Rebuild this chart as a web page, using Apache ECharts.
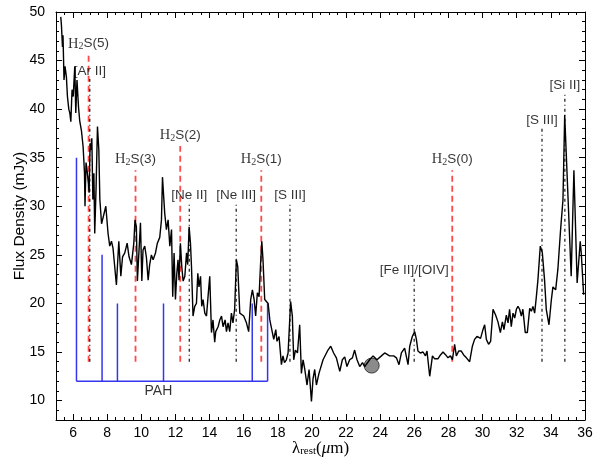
<!DOCTYPE html>
<html>
<head>
<meta charset="utf-8">
<script src="https://cdn.jsdelivr.net/npm/echarts@6/dist/echarts.min.js"></script>
<style>
  html, body { margin: 0; padding: 0; background: #fff; }
  #chart { width: 614px; height: 465px; }
</style>
</head>
<body>
<div id="chart"></div>
<script>
// spectrum (lambda_rest in micron, flux in mJy)
const wavelength = [
  5.28, 5.32, 5.38, 5.41, 5.47, 5.53, 5.61, 5.67, 5.75, 5.81, 5.87, 5.94, 6.01, 6.10, 6.16, 6.23,
  6.32, 6.39, 6.49, 6.59, 6.67, 6.70, 6.76, 6.82, 6.88, 6.94, 7.00, 7.04, 7.10, 7.16, 7.22, 7.27,
  7.35, 7.43, 7.51, 7.57, 7.67, 7.76, 7.92, 8.05, 8.15, 8.25, 8.34, 8.43, 8.54, 8.68, 8.80, 8.90,
  9.03, 9.17, 9.28, 9.42, 9.56, 9.63, 9.71, 9.77, 9.87, 9.95, 10.03, 10.10, 10.20, 10.30, 10.40, 10.49,
  10.59, 10.69, 10.83, 10.94, 11.08, 11.18, 11.24, 11.37, 11.47, 11.57, 11.67, 11.77, 11.84, 11.92, 12.00, 12.08,
  12.15, 12.21, 12.29, 12.37, 12.45, 12.55, 12.65, 12.72, 12.80, 12.88, 12.94, 13.03, 13.13, 13.23, 13.31, 13.38,
  13.47, 13.54, 13.62, 13.72, 13.82, 13.91, 14.01, 14.11, 14.20, 14.30, 14.36, 14.50, 14.60, 14.70, 14.79, 14.91,
  14.99, 15.08, 15.18, 15.28, 15.37, 15.47, 15.57, 15.65, 15.77, 15.87, 16.00, 16.16, 16.29, 16.41, 16.51, 16.61,
  16.70, 16.80, 16.90, 16.98, 17.06, 17.13, 17.23, 17.33, 17.43, 17.53, 17.68, 17.76, 17.88, 17.95, 18.07, 18.21,
  18.30, 18.39, 18.50, 18.60, 18.75, 18.85, 18.93, 19.03, 19.15, 19.28, 19.38, 19.48, 19.58, 19.71, 19.83, 19.97,
  20.06, 20.16, 20.26, 20.41, 20.65, 20.94, 21.10, 21.27, 21.43, 21.63, 21.78, 21.92, 22.05, 22.21, 22.37, 22.50,
  22.64, 22.80, 22.96, 23.09, 23.38, 23.58, 23.81, 24.07, 24.26, 24.55, 24.79, 24.95, 25.10, 25.24, 25.43, 25.63,
  25.73, 25.88, 26.02, 26.12, 26.21, 26.35, 26.51, 26.65, 26.74, 26.90, 27.06, 27.19, 27.38, 27.53, 27.68, 27.84,
  27.97, 28.11, 28.23, 28.36, 28.46, 28.60, 28.75, 28.89, 29.05, 29.24, 29.40, 29.53, 29.67, 29.78, 29.88, 30.02,
  30.12, 30.22, 30.35, 30.47, 30.61, 30.76, 30.90, 31.04, 31.16, 31.25, 31.39, 31.49, 31.58, 31.68, 31.78, 31.88,
  31.98, 32.07, 32.17, 32.27, 32.36, 32.50, 32.62, 32.76, 32.86, 32.95, 33.05, 33.15, 33.24, 33.38, 33.50, 33.63,
  33.73, 33.89, 34.03, 34.12, 34.28, 34.41, 34.57, 34.71, 34.81, 35.19, 35.35, 35.54, 35.72, 35.78, 35.92
];
const flux = [
  49.5, 48.6, 46.4, 47.6, 43.0, 44.4, 43.3, 41.3, 40.0, 39.6, 38.7, 42.0, 41.3, 44.4, 39.6, 43.0,
  40.2, 38.8, 37.8, 36.1, 33.4, 30.0, 34.5, 33.7, 32.7, 31.4, 36.5, 35.8, 37.0, 30.7, 33.4, 27.2,
  32.0, 38.2, 35.8, 30.7, 28.2, 28.4, 30.0, 27.2, 25.9, 26.4, 25.7, 25.8, 21.9, 26.4, 22.8, 24.8,
  25.2, 26.2, 24.8, 24.0, 26.2, 28.6, 27.9, 22.3, 22.4, 28.3, 22.3, 25.5, 25.9, 24.7, 22.4, 24.0,
  25.0, 24.5, 25.2, 26.2, 26.8, 28.6, 33.0, 29.3, 27.6, 28.6, 25.9, 27.6, 20.7, 25.2, 20.4, 23.1,
  24.5, 22.4, 26.2, 23.8, 22.3, 22.8, 25.2, 24.0, 27.9, 26.2, 23.8, 18.7, 19.7, 20.0, 23.1, 21.7,
  22.8, 19.7, 20.4, 19.0, 18.7, 20.7, 22.8, 17.0, 18.3, 16.0, 17.1, 17.6, 18.3, 18.7, 17.6, 18.3,
  17.1, 18.0, 17.1, 19.0, 18.0, 19.4, 24.5, 23.8, 19.0, 18.8, 18.7, 18.0, 17.1, 20.4, 21.4, 20.4,
  18.7, 21.1, 20.7, 23.8, 26.4, 24.5, 20.4, 20.4, 20.0, 18.3, 17.0, 16.3, 17.3, 16.1, 16.6, 13.7,
  14.6, 13.9, 14.2, 14.9, 20.2, 18.7, 14.2, 15.2, 14.9, 17.8, 12.8, 14.2, 13.2, 11.6, 13.2, 9.9,
  12.2, 13.2, 11.6, 12.8, 14.2, 15.2, 15.6, 14.9, 14.4, 13.0, 14.2, 14.5, 13.5, 14.2, 14.4, 15.2,
  14.2, 13.5, 13.9, 13.5, 14.2, 14.6, 14.2, 14.6, 14.9, 14.6, 14.6, 14.4, 13.7, 14.9, 15.4, 13.7,
  15.6, 16.6, 17.1, 16.3, 15.1, 14.9, 15.0, 14.6, 15.1, 12.5, 14.6, 14.3, 14.3, 14.7, 15.0, 14.7,
  14.4, 14.6, 14.2, 15.8, 14.6, 15.1, 15.1, 14.7, 14.4, 14.0, 15.6, 16.3, 16.6, 16.8, 16.4, 17.3,
  17.8, 16.3, 15.8, 16.1, 19.4, 18.8, 18.1, 17.0, 18.1, 17.3, 18.8, 18.0, 19.4, 17.6, 19.0, 18.5,
  19.4, 19.7, 19.4, 18.7, 19.4, 17.0, 17.0, 19.5, 19.2, 19.7, 19.0, 20.7, 22.4, 25.9, 25.2, 22.4,
  19.4, 17.8, 20.4, 21.7, 21.4, 23.5, 27.6, 30.7, 39.4, 22.8, 33.7, 22.1, 26.4, 25.2, 20.9
];

// H2 rotational lines (red dashed)
const h2Names = ['H2S(5)', 'H2S(3)', 'H2S(2)', 'H2S(1)', 'H2S(0)'];
const h2Wave = [6.91, 9.66, 12.28, 17.03, 28.22];
const h2Top = [45.6, 33.7, 36.2, 33.7, 33.7];

// fine-structure lines (black dash-dot)
const ionNames = ['[Ar II]', '[Ne II]', '[Ne III]', '[S III]', '[Fe II]/[OIV]', '[S III]', '[Si II]'];
const ionWave = [6.98, 12.81, 15.56, 18.71, 25.99, 33.48, 34.82];
const ionTop = [43.1, 30.3, 30.3, 30.3, 22.6, 38.0, 41.6];
const lineBottom = 14;

// PAH bands (blue comb)
const pahWave = [6.2, 7.7, 8.6, 11.3, 16.5, 17.4];
const pahTop = [35, 25, 20, 20, 20, 20];
const pahBase = 12;
const pahLabel = [11.0, 10.95];

// photometric point
const photPoint = [23.5, 13.6];

// tick positions
const xMajor = [6, 8, 10, 12, 14, 16, 18, 20, 22, 24, 26, 28, 30, 32, 34, 36];
const yMajor = [10, 15, 20, 25, 30, 35, 40, 45, 50];

const SANS = 'Liberation Sans';
const SERIF = 'Liberation Serif';
const RED = '#ff4a4a';
const BLUE = '#3535ee';

const chart = echarts.init(document.getElementById('chart'), null, { renderer: 'canvas' });

// four stacked grids with the same box: minor/major ticks on every side
const gridBox = { left: 56, right: 29, top: 12, bottom: 45, containLabel: false, outerBoundsMode: 'none' };
const grids = [0, 1, 2, 3].map(() => Object.assign({}, gridBox));

// 0: bottom/left minor, 1: bottom/left major + labels, 2: top/right minor, 3: top/right major
function xAxisFor(g) {
  const major = g % 2 === 1;
  const pos = g < 2 ? 'bottom' : 'top';
  const ax = {
    type: 'value', gridIndex: g, position: pos, min: 5, max: 36,
    axisLine: { show: !major, onZero: false, lineStyle: { color: '#000', width: 1 } },
    axisTick: { inside: true, length: major ? 6 : 3, lineStyle: { color: '#000', width: 1 } },
    axisLabel: { show: false },
    splitLine: { show: false }
  };
  if (major) {
    ax.axisTick.customValues = xMajor;
  } else {
    ax.interval = 0.5;
  }
  if (g === 1) {
    ax.axisLabel = { show: true, customValues: xMajor, margin: 6, color: '#000', fontFamily: SANS, fontSize: 14 };
    ax.name = '{l|λ}{r|rest}{p|(}{u|μ}{p|m)}';
    ax.nameLocation = 'middle';
    ax.nameGap = 20;
    ax.nameMoveOverlap = false;
    ax.nameTextStyle = {
      color: '#000',
      rich: {
        l: { fontFamily: SERIF, fontSize: 17, color: '#000' },
        r: { fontFamily: SERIF, fontSize: 11, color: '#000', verticalAlign: 'bottom', lineHeight: 14 },
        p: { fontFamily: SERIF, fontSize: 17, color: '#000' },
        u: { fontFamily: SERIF, fontSize: 17, fontStyle: 'italic', color: '#000' }
      }
    };
  }
  return ax;
}

function yAxisFor(g) {
  const major = g % 2 === 1;
  const pos = g < 2 ? 'left' : 'right';
  const ax = {
    type: 'value', gridIndex: g, position: pos, min: 8, max: 50,
    axisLine: { show: !major, onZero: false, lineStyle: { color: '#000', width: 1 } },
    axisTick: { inside: true, length: major ? 6 : 3, lineStyle: { color: '#000', width: 1 } },
    axisLabel: { show: false },
    splitLine: { show: false }
  };
  if (major) {
    ax.axisTick.customValues = yMajor;
  } else {
    ax.interval = 1;
  }
  if (g === 1) {
    ax.axisLabel = { show: true, customValues: yMajor, margin: 11, color: '#000', fontFamily: SANS, fontSize: 14 };
    ax.name = 'Flux Density (mJy)';
    ax.nameLocation = 'middle';
    ax.nameRotate = 90;
    ax.nameGap = 28;
    ax.nameMoveOverlap = false;
    ax.nameTextStyle = { color: '#000', fontFamily: SANS, fontSize: 15.5 };
  }
  return ax;
}

function segment(points, color, width, type, z) {
  return {
    type: 'line', xAxisIndex: 1, yAxisIndex: 1, data: points,
    symbol: 'none', silent: true, z: z,
    lineStyle: { color: color, width: width, type: type }
  };
}

const series = [];

// PAH comb
series.push(segment([[pahWave[0], pahBase], [pahWave[pahWave.length - 1], pahBase]], BLUE, 1.5, 'solid', 2));
pahWave.forEach((w, i) => series.push(segment([[w, pahBase], [w, pahTop[i]]], BLUE, 1.5, 'solid', 2)));

// line markers
h2Wave.forEach((w, i) => series.push(segment([[w, lineBottom], [w, h2Top[i]]], RED, 1.8, [6, 4], 3)));
ionWave.forEach((w, i) => series.push(segment([[w, lineBottom], [w, ionTop[i]]], '#111', 1.2, [3, 3, 1, 3], 3)));

// photometric point
series.push({
  type: 'scatter', xAxisIndex: 1, yAxisIndex: 1, data: [photPoint], silent: true, z: 4,
  symbol: 'circle', symbolSize: 15,
  itemStyle: { color: '#6e6e6e', borderColor: '#222', borderWidth: 1 }
});

// spectrum
series.push({
  type: 'line', xAxisIndex: 1, yAxisIndex: 1, z: 5, silent: true,
  data: wavelength.map((w, i) => [w, flux[i]]),
  symbol: 'none',
  lineStyle: { color: '#000', width: 1.4 }
});

// labels
const labelBase = { color: '#000', fontFamily: SANS, fontSize: 13.5 };
series.push({
  type: 'scatter', xAxisIndex: 1, yAxisIndex: 1, symbolSize: 0, silent: true, z: 6,
  data: h2Wave.map((w, i) => ({ value: [w, h2Top[i]], name: h2Names[i] })),
  label: {
    show: true, position: 'top', distance: 3,
    formatter: (p) => '{h|H}{s|2}{t|' + p.name.slice(2) + '}',
    rich: {
      h: { fontFamily: SERIF, fontSize: 14.5, color: '#000', lineHeight: 16 },
      s: { fontFamily: SERIF, fontSize: 10, color: '#000', verticalAlign: 'bottom', lineHeight: 12 },
      t: Object.assign({ lineHeight: 16 }, labelBase)
    }
  }
});
series.push({
  type: 'scatter', xAxisIndex: 1, yAxisIndex: 1, symbolSize: 0, silent: true, z: 6,
  data: ionWave.map((w, i) => ({ value: [w, ionTop[i]], name: ionNames[i] })),
  label: Object.assign({ show: true, position: 'top', distance: 1, formatter: '{b}' }, labelBase)
});
series.push({
  type: 'scatter', xAxisIndex: 1, yAxisIndex: 1, symbolSize: 0, silent: true, z: 6,
  data: [{ value: pahLabel, name: 'PAH' }],
  label: Object.assign({ show: true, position: 'inside', formatter: '{b}' }, labelBase, { fontSize: 14 })
});

chart.setOption({
  animation: false,
  backgroundColor: '#fff',
  grid: grids,
  xAxis: [0, 1, 2, 3].map(xAxisFor),
  yAxis: [0, 1, 2, 3].map(yAxisFor),
  series: series
});
</script>
</body>
</html>
